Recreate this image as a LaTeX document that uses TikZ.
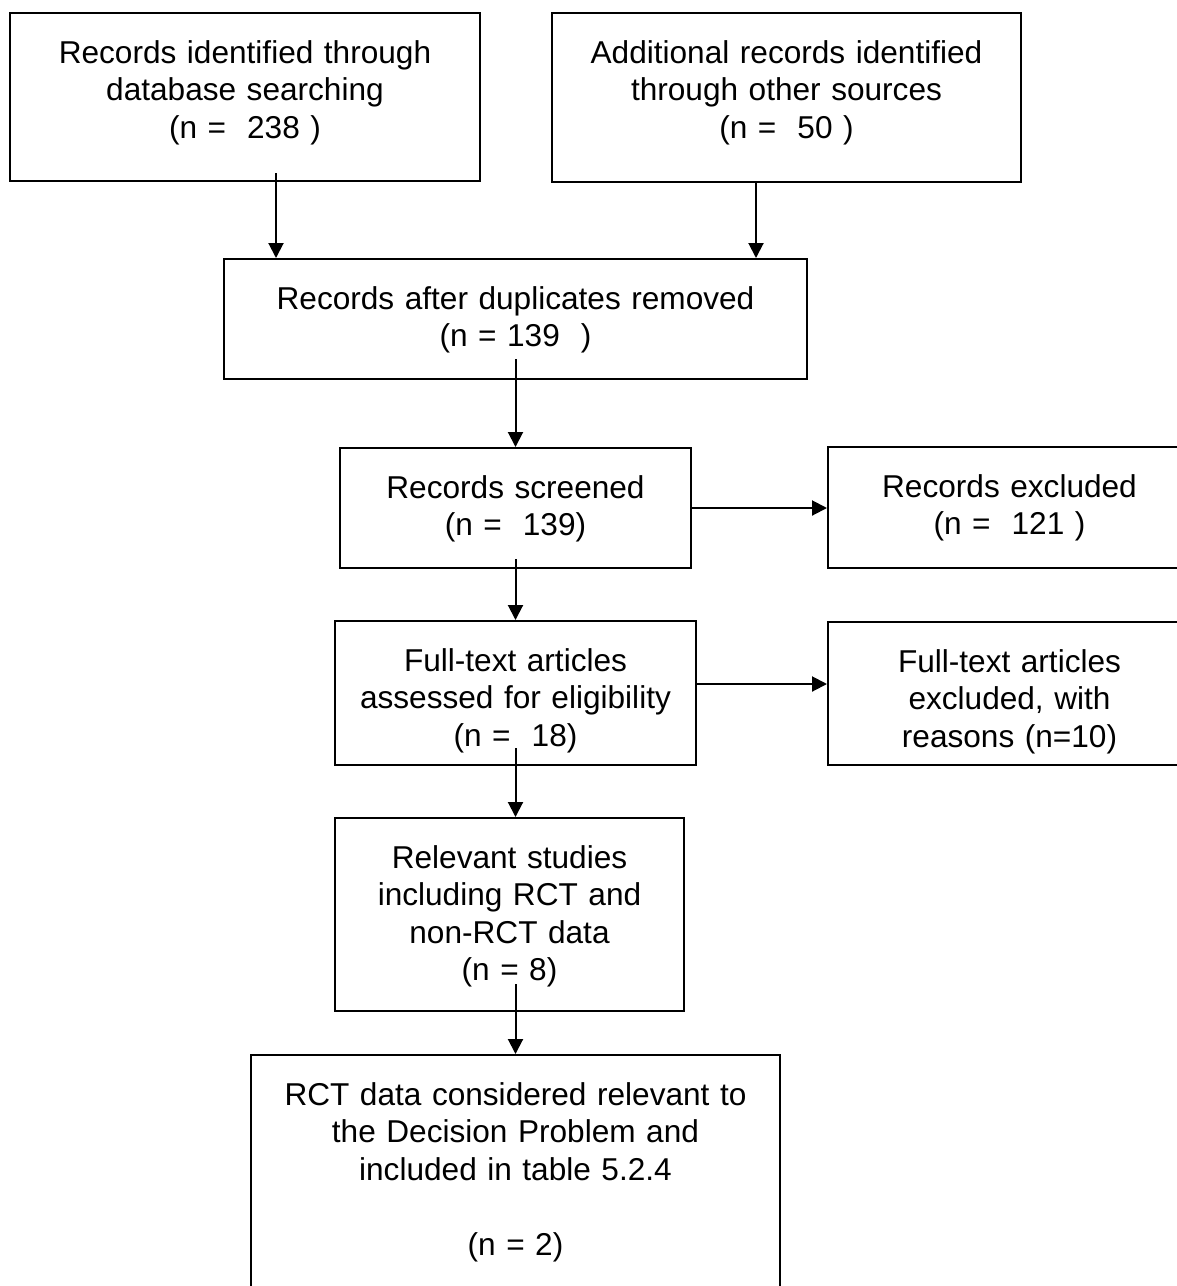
\documentclass[tikz,border=0pt]{standalone}
\usepackage{fontspec}
\setmainfont{Liberation Sans}
\usetikzlibrary{arrows.meta}

\begin{document}
\begin{tikzpicture}[x=1pt,y=-1pt,
    box/.style={draw, line width=1pt, anchor=north west, inner sep=0pt,
                align=center, text height=25pt,
                font=\fontsize{15.8pt}{18.75pt}\selectfont},
    arr/.style={line width=1pt, -{Triangle[length=7.5pt,width=7.5pt]}}]
             \path[use as bounding box, clip] (0,0) rectangle (588.5,643);
             \node[box, text width=235pt, text depth=59pt] (dbase) at (4.5,6)
                  {Records identified through\\database searching\\(n =~ 238 )};
             \node[box, text width=234.5pt, text depth=59.5pt] (other) at (275.5,6)
                  {Additional records identified\\through other sources\\(n =~ 50 )};
             \node[box, text width=291.5pt, text depth=35pt] (dupl) at (111.5,129)
                  {Records after duplicates removed\\(n = 139~ )};
             \node[box, text width=175.5pt, text depth=35pt] (screen) at (169.5,223.5)
                  {Records screened\\(n =~ 139)};
             \node[box, text width=181.5pt, text depth=35.5pt] (excl) at (413.5,223)
                  {Records excluded\\(n =~ 121 )};
             \node[box, text width=180.5pt, text depth=47pt] (fulltx) at (167,310)
                  {Full-text articles\\assessed for eligibility\\(n =~ 18)};
             \node[box, text width=181.5pt, text depth=46.5pt] (ftexcl) at (413.5,310.5)
                  {Full-text articles\\excluded, with\\reasons (n=10)};
             \node[box, text width=174.5pt, text depth=71.5pt] (relev) at (167,408.5)
                  {Relevant studies\\including RCT and\\non-RCT data\\(n = 8)};
             \node[box, text width=264.5pt, text depth=105pt] (rct) at (125,527)
                  {RCT data considered relevant to\\the Decision Problem and\\included in table 5.2.4\\[18.75pt](n = 2)};

             \coordinate (a1) at ([shift={(15.5,-4.5)}]dbase.south);
             \coordinate (a2) at ([shift={(-15.25,0)}]other.south);
             \coordinate (a3) at ([shift={(0,-10.5)}]dupl.south);
             \coordinate (a4) at ([shift={(0,-5)}]screen.south);
             \coordinate (a5) at ([shift={(0,-9)}]fulltx.south);
             \coordinate (a6) at (a5 |- relev.south);
             \coordinate (h2) at ([shift={(0,-4.5)}]fulltx.east);
             \draw[arr] (a1) -- (a1 |- dupl.north);
             \draw[arr] (a2) -- (a2 |- dupl.north);
             \draw[arr] (a3) -- (screen.north);
             \draw[arr] (a4) -- (fulltx.north);
             \draw[arr] (a5) -- (a5 |- relev.north);
             \draw[arr] ([shift={(0,-14)}]a6) -- (a6 |- rct.north);
             \draw[arr] (screen.east) -- (screen.east -| excl.west);
             \draw[arr] (h2) -- (h2 -| ftexcl.west);
         \end{tikzpicture}
\end{document}
